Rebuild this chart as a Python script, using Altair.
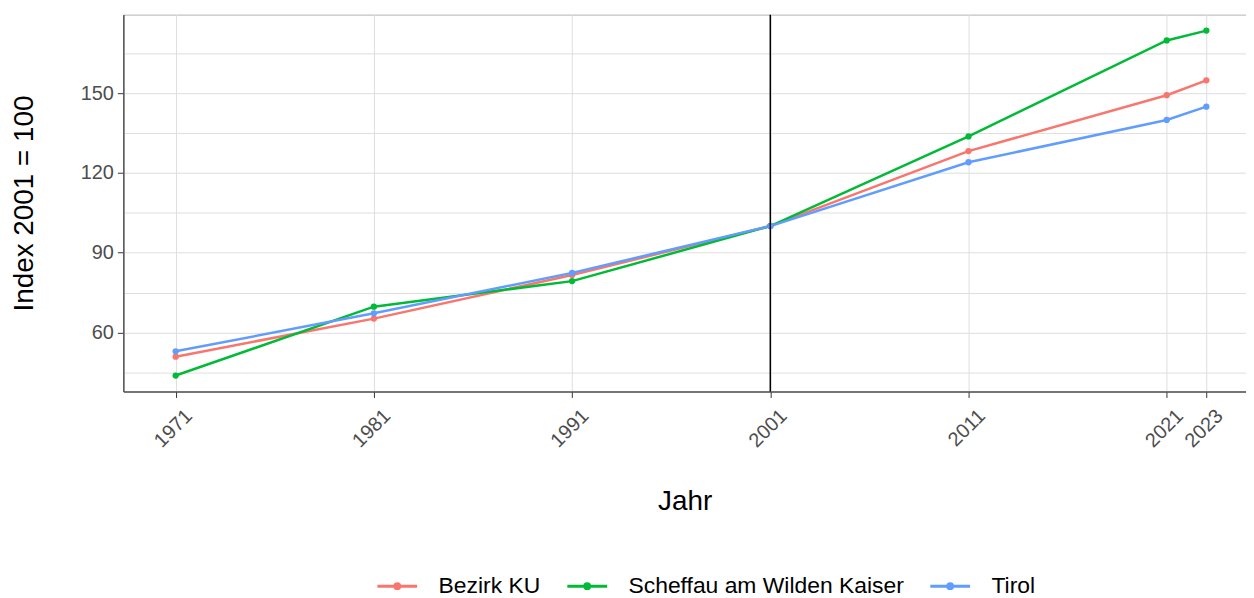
import altair as alt
import pandas as pd

years = [1971, 1981, 1991, 2001, 2011, 2021, 2023]
bezirk_ku = [50.9, 65.2, 81.6, 100.0, 128.2, 149.2, 154.8]
scheffau = [43.8, 69.7, 79.3, 100.0, 133.7, 169.8, 173.5]
tirol = [52.9, 67.2, 82.4, 100.0, 124.0, 139.9, 144.9]
series_names = ["Bezirk KU", "Scheffau am Wilden Kaiser", "Tirol"]
series_colors = ["#F8766D", "#00BA38", "#619CFF"]
y_grid = [45, 60, 75, 90, 105, 120, 135, 150, 165]
ref_year = [2001]

rows = []
for name, vals in zip(series_names, [bezirk_ku, scheffau, tirol]):
    for yr, v in zip(years, vals):
        rows.append({"Jahr": yr, "Index": v, "Region": name})
df = pd.DataFrame(rows)

FONT = "Liberation Sans"
xscale = alt.Scale(domain=[1968.36, 2025.0], nice=False, zero=False)
yscale = alt.Scale(domain=[37.8, 179.5], nice=False, zero=False)
cscale = alt.Scale(domain=series_names, range=series_colors)

base = alt.Chart(df)

lines = base.mark_line(strokeWidth=2.5).encode(
    x=alt.X("Jahr:Q", scale=xscale, axis=alt.Axis(
        values=years, format="d", labelAngle=-45, labelAlign="right",
        labelBaseline="top", labelFont=FONT, labelFontSize=20,
        labelOverlap=False, labelBound=False, labelFlush=False,
        labelColor="#4D4D4D", labelPadding=8, labelOffset=6,
        tickColor="#333333",
        tickSize=6, domainColor="#555555", domainWidth=1.5,
        grid=True, gridColor="#DEDEDE", gridWidth=1,
        title="Jahr", titleFont=FONT, titleFontSize=28,
        titleFontWeight="normal", titleColor="#000000", titlePadding=37)),
    y=alt.Y("Index:Q", scale=yscale, axis=alt.Axis(
        values=y_grid,
        labelExpr="datum.value % 30 == 0 ? datum.label : ''",
        tickOpacity={"expr": "datum.value % 30 == 0 ? 1 : 0"},
        labelFont=FONT, labelFontSize=20, labelColor="#4D4D4D",
        labelOverlap=False,
        labelPadding=4, tickColor="#333333", tickSize=6,
        domainColor="#555555", domainWidth=1.5,
        grid=True, gridColor="#DEDEDE", gridWidth=1,
        title="Index 2001 = 100", titleFont=FONT, titleFontSize=28,
        titleFontWeight="normal", titleColor="#000000", titlePadding=42)),
    color=alt.Color("Region:N", scale=cscale, legend=alt.Legend(
        title=None, orient="none", direction="horizontal",
        legendX=254, legendY=553,
        symbolType="M-1,0H1M0.12,0A0.12,0.12,0,1,1,-0.12,0A0.12,0.12,0,1,1,0.12,0Z",
        symbolSize=1600, symbolStrokeWidth=3,
        labelFont=FONT, labelFontSize=23, labelColor="#000000",
        labelLimit=500, labelOffset=20, columnPadding=20, symbolOpacity=1,
    )),
)

points = base.mark_circle(size=40, opacity=1).encode(
    x=alt.X("Jahr:Q", scale=xscale),
    y=alt.Y("Index:Q", scale=yscale),
    fill=alt.Fill("Region:N", scale=cscale, legend=None),
)

rule = alt.Chart(pd.DataFrame({"Jahr": ref_year})).mark_rule(
    color="#000000", strokeWidth=1.5).encode(x=alt.X("Jahr:Q", scale=xscale))

chart = alt.layer(lines, points, rule).properties(
    width=1129, height=379,
    autosize=alt.AutoSizeParams(type="none"),
    padding={"left": 116, "top": 5, "right": 0, "bottom": 205},
).configure_view(stroke="#B3B3B3", strokeWidth=1)

chart.save("out.html", embed_options={"renderer": "svg", "actions": False})
